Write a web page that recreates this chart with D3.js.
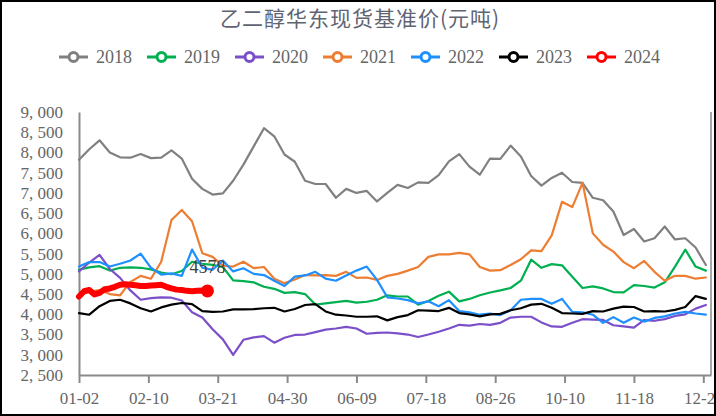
<!DOCTYPE html>
<html>
<head>
<meta charset="utf-8">
<script src="https://cdn.jsdelivr.net/npm/d3@7"></script>
<style>
  html, body { margin: 0; padding: 0; background: #fff; }
  svg { display: block; }
</style>
</head>
<body>
<svg id="chart" width="716" height="416"></svg>
<script>
// x axis labels (one every 27 trading days)
const tickLabels = ["01-02", "02-10", "03-21", "04-30", "06-09", "07-18", "08-26", "10-10", "11-18", "12-27"];
const years = ["2018", "2019", "2020", "2021", "2022", "2023", "2024"];
const colors = ["#808080", "#00b050", "#7b4fc9", "#ed7d31", "#1e8fff", "#000000", "#ff0000"];

// values sampled every 4 trading days (2024: every 2)
const v2018 = [7820, 8080, 8300, 8000, 7880, 7870, 7960, 7860, 7870, 8050, 7850, 7350, 7100, 6960, 6990, 7300, 7700, 8150, 8600, 8400, 7950, 7770, 7300, 7220, 7220, 6880, 7100, 7000, 7050, 6790, 7000, 7200, 7120, 7260, 7250, 7440, 7780, 7960, 7650, 7450, 7850, 7840, 8170, 7900, 7420, 7180, 7370, 7500, 7270, 7250, 6880, 6820, 6540, 5960, 6110, 5800, 5880, 6170, 5850, 5880, 5650, 5220];
const v2019 = [5100, 5160, 5190, 5080, 5150, 5160, 5150, 5110, 5030, 4990, 5070, 5300, 5250, 5220, 5170, 4840, 4820, 4790, 4680, 4630, 4530, 4550, 4500, 4240, 4270, 4300, 4330, 4290, 4310, 4360, 4470, 4440, 4440, 4240, 4330, 4460, 4560, 4320, 4380, 4470, 4540, 4590, 4650, 4830, 5350, 5150, 5240, 5210, 4930, 4650, 4690, 4640, 4550, 4540, 4720, 4700, 4660, 4790, 5180, 5600, 5180, 5080];
const v2020 = [5060, 5280, 5470, 5120, 4900, 4590, 4360, 4400, 4420, 4410, 4340, 4050, 3920, 3630, 3380, 3000, 3370, 3430, 3460, 3300, 3420, 3490, 3500, 3560, 3620, 3650, 3690, 3650, 3520, 3540, 3550, 3530, 3500, 3440, 3500, 3570, 3650, 3740, 3720, 3760, 3740, 3790, 3920, 3940, 3940, 3800, 3700, 3690, 3790, 3880, 3870, 3860, 3730, 3700, 3670, 3860, 3840, 3880, 3960, 4000, 4140, 4230];
const v2021 = [4500, 4560, 4600, 4500, 4470, 4800, 4950, 4880, 5300, 6330, 6580, 6300, 5510, 5420, 5200, 5180, 5300, 5140, 5170, 4880, 4770, 4860, 4970, 4960, 4970, 4950, 5050, 4900, 4910, 4850, 4950, 5000, 5080, 5170, 5420, 5480, 5480, 5520, 5480, 5170, 5080, 5090, 5220, 5360, 5580, 5560, 5950, 6780, 6650, 7250, 6000, 5720, 5550, 5290, 5140, 5320, 5050, 4830, 4950, 4950, 4880, 4910];
const v2022 = [5180, 5290, 5290, 5180, 5250, 5330, 5500, 5150, 4980, 5010, 4950, 5600, 5150, 5100, 5330, 5060, 5140, 5000, 4970, 4830, 4700, 4930, 4960, 5050, 4880, 4830, 4960, 5080, 5180, 4850, 4420, 4390, 4350, 4270, 4320, 4200, 4350, 4080, 4050, 3990, 4020, 3980, 4100, 4360, 4380, 4380, 4260, 4380, 4060, 4050, 3990, 3790, 3930, 3790, 3920, 3820, 3910, 3950, 4020, 4060, 4020, 3990];
const v2023 = [4030, 3990, 4200, 4330, 4360, 4270, 4150, 4070, 4170, 4240, 4280, 4250, 4080, 4060, 4070, 4120, 4120, 4130, 4150, 4160, 4070, 4130, 4230, 4250, 4070, 3990, 3970, 3940, 3940, 3950, 3850, 3930, 3980, 4100, 4090, 4080, 4160, 4030, 4000, 3950, 4000, 4010, 4100, 4150, 4240, 4260, 4160, 4030, 4020, 4010, 4080, 4070, 4140, 4190, 4180, 4070, 4080, 4070, 4110, 4180, 4450, 4380];
const v2024 = [4440, 4570, 4600, 4490, 4530, 4620, 4640, 4680, 4730, 4745, 4730, 4720, 4700, 4700, 4710, 4720, 4730, 4680, 4640, 4610, 4600, 4580, 4570, 4580, 4590, 4578];

const seriesValues = [v2018, v2019, v2020, v2021, v2022, v2023, v2024];
const steps = [4, 4, 4, 4, 4, 4, 2];
const totalDays = 246;

const svg = d3.select("#chart");
const margin = { top: 112, right: 5, bottom: 41, left: 79 };
const width = 716 - margin.left - margin.right;
const height = 416 - margin.top - margin.bottom;

const axisColor = "#8a8a8a";
const textColor = "#666";
const numFont = "'Liberation Serif', 'DejaVu Serif', serif";

svg.append("rect").attr("width", 716).attr("height", 416).attr("fill", "#fff");

// Title
svg.append("text")
  .attr("x", 360).attr("y", 26)
  .attr("text-anchor", "middle")
  .style("font-family", "'Noto Sans CJK SC', sans-serif")
  .style("font-size", "21px")
  .style("letter-spacing", "1px")
  .style("fill", "#5f6472")
  .text("乙二醇华东现货基准价(元吨)");

// Legend
const legend = svg.append("g").attr("transform", "translate(59,57)");
const item = legend.selectAll("g").data(years).enter().append("g")
  .attr("transform", (d, i) => `translate(${i * 88},0)`);
item.append("line")
  .attr("x1", 0).attr("x2", 29).attr("y1", 0).attr("y2", 0)
  .attr("stroke", (d, i) => colors[i]).attr("stroke-width", 3);
item.append("circle")
  .attr("cx", 14.5).attr("cy", 0).attr("r", 4.5)
  .attr("fill", "#fff")
  .attr("stroke", (d, i) => colors[i]).attr("stroke-width", 3);
item.append("text")
  .attr("x", 37).attr("y", 6)
  .style("font-family", numFont)
  .style("font-size", "18px")
  .style("fill", textColor)
  .text(d => d);

const g = svg.append("g").attr("transform", `translate(${margin.left},${margin.top})`);

const x = d3.scaleLinear().domain([0, totalDays]).range([0, width]);
const y = d3.scaleLinear().domain([2500, 9000]).range([height, 0]);

// Y axis
const yAxis = g.append("g")
  .call(d3.axisLeft(y)
    .tickValues(d3.range(2500, 9001, 500))
    .tickSize(0)
    .tickPadding(16)
    .tickFormat(d => d3.format(",")(d).replace(",", ", ")));
yAxis.select(".domain").attr("stroke", axisColor).attr("stroke-width", 2);
yAxis.selectAll("text")
  .style("font-family", numFont)
  .style("font-size", "17px")
  .style("fill", textColor);

// X axis
const xAxis = g.append("g")
  .attr("transform", `translate(0,${height})`)
  .call(d3.axisBottom(x)
    .tickValues(tickLabels.map((d, i) => i * 27))
    .tickSize(8)
    .tickSizeOuter(0)
    .tickPadding(9)
    .tickFormat((d, i) => tickLabels[i]));
xAxis.select(".domain").attr("stroke", axisColor).attr("stroke-width", 2);
xAxis.selectAll(".tick line").attr("stroke", axisColor).attr("stroke-width", 2);
xAxis.selectAll("text")
  .style("font-family", numFont)
  .style("font-size", "17px")
  .style("fill", textColor);

// right edge of plot area
g.append("line")
  .attr("x1", x(totalDays)).attr("x2", x(totalDays))
  .attr("y1", 0).attr("y2", height)
  .attr("stroke", axisColor).attr("stroke-width", 1.5);

// Lines
seriesValues.forEach((vals, s) => {
  const line = d3.line()
    .x((d, i) => x(i * steps[s]))
    .y(d => y(d));
  g.append("path")
    .datum(vals)
    .attr("fill", "none")
    .attr("stroke", colors[s])
    .attr("stroke-width", s === 6 ? 6 : 2.2)
    .attr("stroke-linejoin", "round")
    .attr("stroke-linecap", "round")
    .attr("d", line);
});

// 2024 end marker and label
const lastIdx = (v2024.length - 1) * steps[6];
const lastVal = v2024[v2024.length - 1];
g.append("circle")
  .attr("cx", x(lastIdx)).attr("cy", y(lastVal)).attr("r", 6.5)
  .attr("fill", colors[6]);
g.append("text")
  .attr("x", x(lastIdx)).attr("y", y(lastVal) - 18)
  .attr("text-anchor", "middle")
  .style("font-family", numFont)
  .style("font-size", "18px")
  .style("fill", "#404040")
  .text(lastVal);

// outer frame
svg.append("rect")
  .attr("x", 1).attr("y", 1).attr("width", 714).attr("height", 414)
  .attr("fill", "none").attr("stroke", "#000").attr("stroke-width", 2);
</script>
</body>
</html>
